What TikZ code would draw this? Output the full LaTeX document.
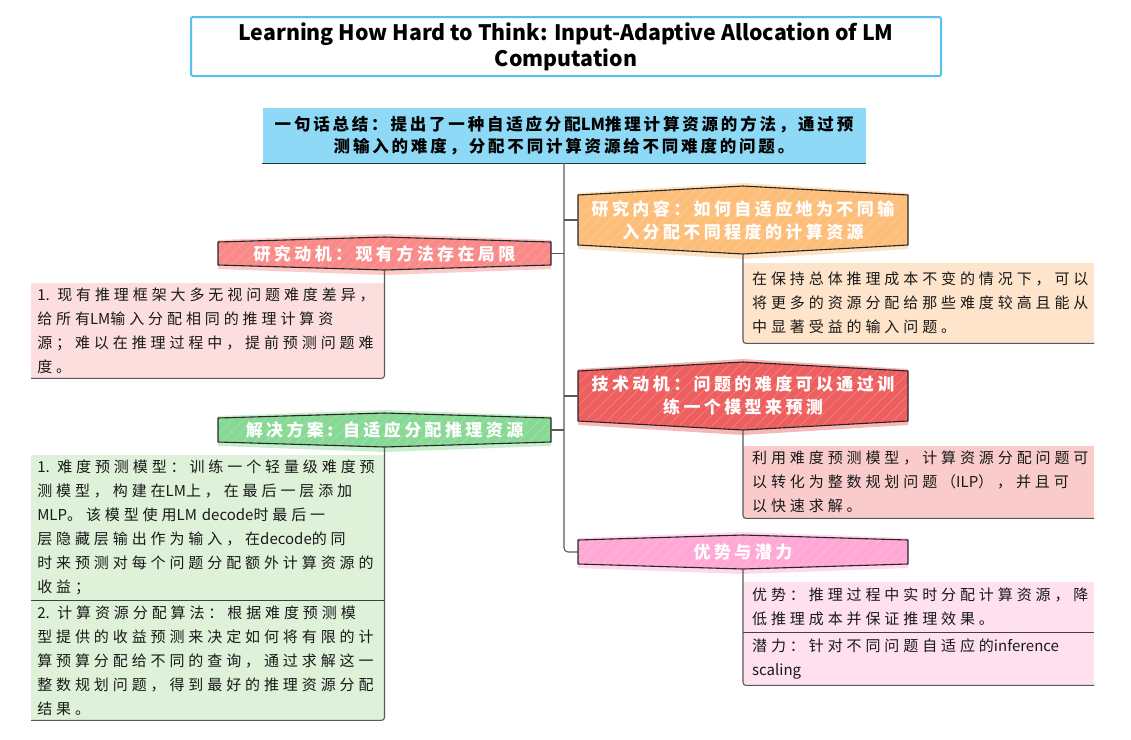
\documentclass[tikz,border=0pt]{standalone}
\usepackage{fontspec}
\setmainfont{Noto Sans CJK SC}
\newfontfamily\leaffont[LetterSpace=26]{Noto Sans CJK SC}
\newfontfamily\hdrfont[LetterSpace=20]{Noto Sans CJK SC}
\newfontfamily\sumfont[LetterSpace=17]{Noto Sans CJK SC}
\newfontfamily\latfont{Noto Sans CJK SC}
\newcommand\lat[1]{{\latfont #1}}
\definecolor{titleblue}{HTML}{55C1EE}
\definecolor{sumfill}{HTML}{8EDAF6}
\definecolor{orangeH}{HTML}{FDBE79}
\definecolor{orangeL}{HTML}{FEE4CB}
\definecolor{redH}{HTML}{EE5F5F}
\definecolor{redL}{HTML}{F9CBCB}
\definecolor{pinkH}{HTML}{FFA8D5}
\definecolor{pinkL}{HTML}{FEE0EE}
\definecolor{coralH}{HTML}{F98A88}
\definecolor{coralL}{HTML}{FDDEDE}
\definecolor{greenH}{HTML}{88D995}
\definecolor{greenL}{HTML}{DEF2DA}
% #1 name, #2 x0, #3 y0, #4 x1, #5 y1, #6 colour, #7 peak, #8 text
\newcommand\mmhead[8]{%
  \fill[#6, opacity=.45] (#2,{#3+#7-2}) -- ({(#2+#4)/2},{#3-3}) -- (#4,{#3+#7-2}) -- (#4,{#5-#7+4}) -- ({(#2+#4)/2},{#5+5}) -- (#2,{#5-#7+4}) -- cycle;
  \filldraw[hdrshape, fill=#6, hatch] (#2,{#3+#7}) -- ({(#2+#4)/2},#3) -- (#4,{#3+#7}) -- (#4,{#5-#7}) -- ({(#2+#4)/2},#5) -- (#2,{#5-#7}) -- cycle;
  \node[hdrtext, minimum width={#4-#2}, minimum height={#5-#3}] (#1) at ({(#2+#4)/2},{(#3+#5)/2}) {#8};
}
\begin{document}
\begin{tikzpicture}[x=1pt,y=-1pt,
  conn/.style={draw=black!65, line width=1.1pt},
  hdrtext/.style={font=\hdrfont\bfseries\fontsize{17}{23}\selectfont, text=white, align=center, inner sep=0pt},
  hdrshape/.style={draw=black!85, line width=1.1pt, line join=round},
  leafR/.style={anchor=north west, minimum width=351, text width=333, inner xsep=9pt, inner ysep=0pt, align=left, font=\leaffont\fontsize{15}{24}\selectfont, text=black!90},
  leafL/.style={anchor=north east, minimum width=353, text width=341, inner xsep=6pt, inner ysep=0pt, align=left, font=\leaffont\fontsize{15}{24}\selectfont, text=black!90},
  leafline/.style={draw=black!75, line width=1.1pt},
  hatch/.style={path picture={\foreach \k in {-90,-79,...,340} \draw[white,opacity=.25,line width=.5pt] ([xshift=\k pt]path picture bounding box.south west) -- ++(90,-90);}}
]
\useasboundingbox (0,0) rectangle (1131,739);

% title
\node[draw=titleblue, line width=2pt, rounded corners=2pt, fill=white, minimum width=750, minimum height=59, align=center, inner sep=0pt, font=\bfseries\fontsize{21.3}{26}\selectfont] (t) at (566,46.5)
  {Learning How Hard to Think: Input-Adaptive Allocation of LM\\Computation};

% summary
\node[fill=sumfill, minimum width=603, minimum height=55, inner sep=0pt, align=center, font=\sumfont\bfseries\fontsize{16.5}{22}\selectfont] (s) at (564,135.5)
  {一句话总结：提出了一种自适应分配\lat{LM}推理计算资源的方法，通过预\\测输入的难度，分配不同计算资源给不同难度的问题。};
\draw[black!80, line width=1.2pt] (s.south west) -- (s.south east);

% headers
\mmhead{h1}{578}{186}{908}{254}{orangeH}{9}{研究内容：如何自适应地为不同输\\入分配不同程度的计算资源}
\mmhead{h2}{578}{362}{908}{430}{redH}{9}{技术动机：问题的难度可以通过训\\练一个模型来预测}
\mmhead{h3}{578}{535}{908}{569}{pinkH}{5}{优势与潜力}
\mmhead{h4}{218}{237}{551}{270}{coralH}{5}{研究动机：现有方法存在局限}
\mmhead{h5}{218}{413}{551}{447}{greenH}{5}{解决方案: 自适应分配推理资源}

% trunk and branches
\draw[conn, rounded corners=4pt] (s.south) -- (s.south |- h3.west) -- (h3.west);
\draw[conn] (s.south |- h1.west) -- (h1.west);
\draw[conn] (s.south |- h2.west) -- (h2.west);
\draw[conn] (s.south |- h4.east) -- (h4.east);
\draw[conn] (s.south |- h5.east) -- (h5.east);

% leaves right
\node[leafR, fill=orangeL, minimum height=80] (l1) at (743,263)
  {在保持总体推理成本不变的情况下，可以\\将更多的资源分配给那些难度较高且能从\\中显著受益的输入问题。};
\node[leafR, fill=redL, minimum height=72] (l2) at (743,446)
  {利用难度预测模型，计算资源分配问题可\\以转化为整数规划问题（\lat{ILP}），并且可\\以快速求解。};
\node[leafR, fill=pinkL, minimum height=50] (l3a) at (743,582)
  {优势：推理过程中实时分配计算资源，降\\低推理成本并保证推理效果。};
\node[leafR, fill=pinkL, minimum height=52] (l3b) at (743,633)
  {潜力：针对不同问题自适应的\lat{inference}\\\lat{scaling}};

% leaves left
\node[leafL, fill=coralL, minimum height=95] (l4) at (384.5,283)
  {\lat{1.} 现有推理框架大多无视问题难度差异，\\给所有\lat{LM}输入分配相同的推理计算资\\源；难以在推理过程中，提前预测问题难\\度。};
\node[leafL, fill=greenL, minimum height=145] (l5a) at (384.5,455)
  {\lat{1.} 难度预测模型：训练一个轻量级难度预\\测模型，构建在\lat{LM}上，在最后一层添加\\\lat{MLP}。该模型使用\lat{LM decode}时最后一\\层隐藏层输出作为输入，在\lat{decode}的同\\时来预测对每个问题分配额外计算资源的\\收益；};
\node[leafL, fill=greenL, minimum height=119] (l5b) at (384.5,601)
  {\lat{2.} 计算资源分配算法：根据难度预测模\\型提供的收益预测来决定如何将有限的计\\算预算分配给不同的查询，通过求解这一\\整数规划问题，得到最好的推理资源分配\\结果。};

% leaf connectors
\draw[conn, rounded corners=3pt] (h1.south) -- (l1.south west) -- (l1.south east);
\draw[conn, rounded corners=3pt] (h2.south) -- (l2.south west) -- (l2.south east);
\draw[leafline] (l3a.south west) -- (l3a.south east);
\draw[conn, rounded corners=3pt] (h3.south) -- (l3b.south west) -- (l3b.south east);
\draw[conn, rounded corners=3pt] (h4.south) -- (l4.south east) -- (l4.south west);
\draw[leafline] (l5a.south east) -- (l5a.south west);
\draw[conn, rounded corners=3pt] (h5.south) -- (l5b.south east) -- (l5b.south west);
\end{tikzpicture}
\end{document}
